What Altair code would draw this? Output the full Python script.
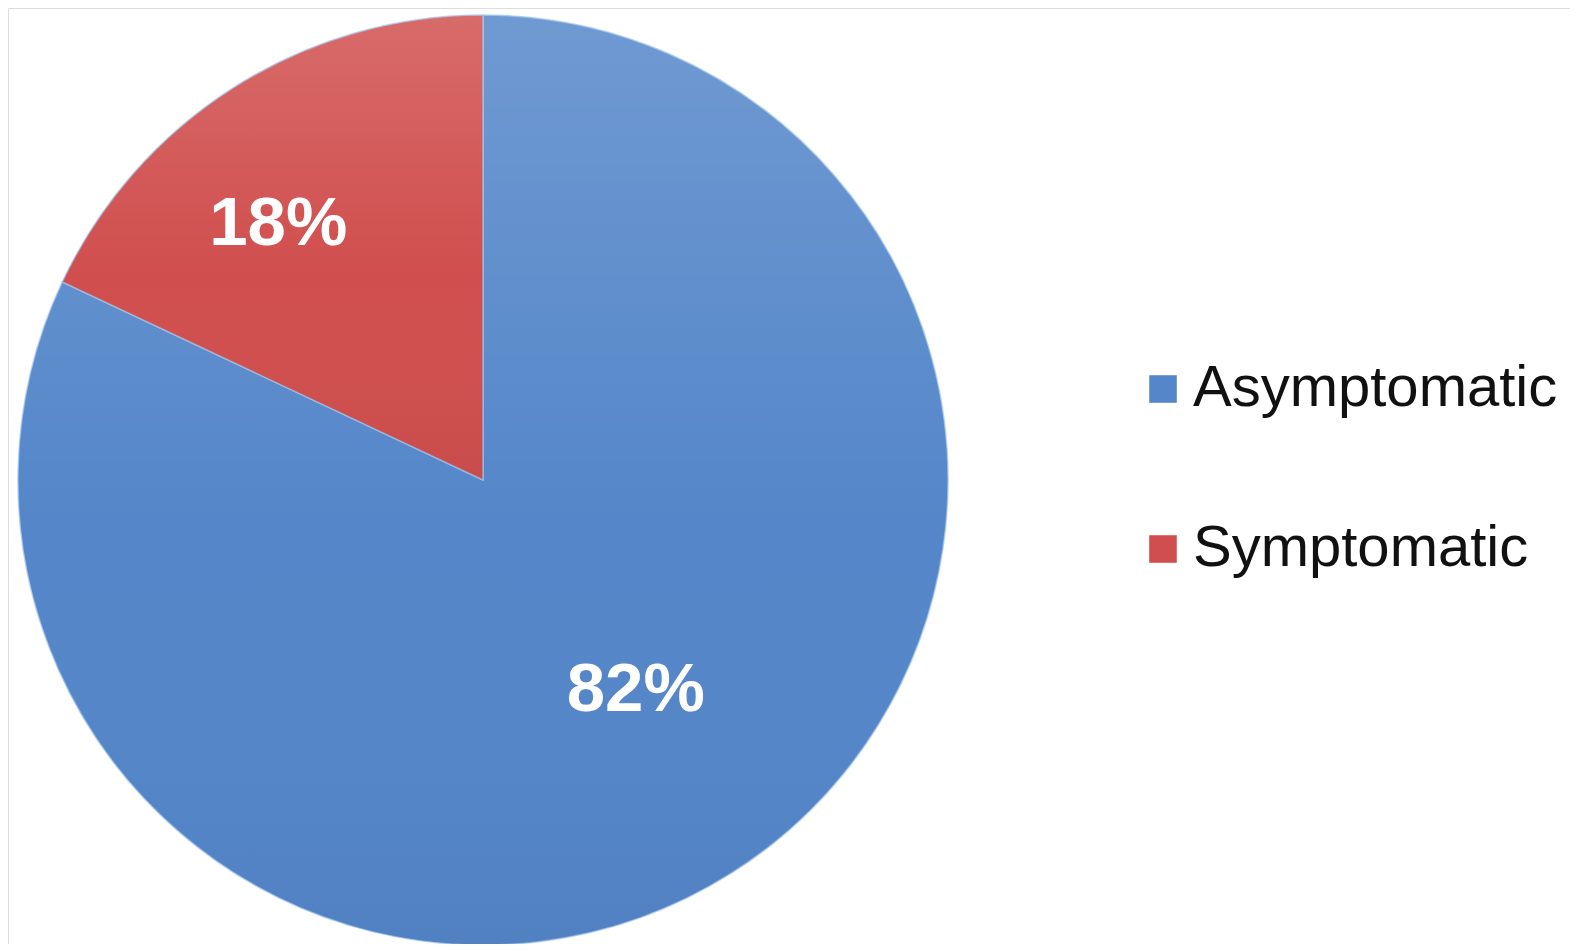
import altair as alt
import pandas as pd

categories = ["Asymptomatic", "Symptomatic"]
values = [82, 18]
labels = ["82%", "18%"]

df = pd.DataFrame({"status": categories, "value": values, "label": labels})

CX, CY, R = 475, 472, 465
FONT = "Arial"

color = alt.Color(
    "status:N",
    scale=alt.Scale(domain=categories, range=["#5486C9", "#D04F4E"]),
    legend=alt.Legend(
        title=None,
        orient="none",
        legendX=1126,
        legendY=352,
        symbolType="square",
        symbolSize=760,
        symbolStrokeWidth=0,
        labelFontSize=58,
        labelFont=FONT,
        labelColor="#111111",
        labelOffset=1,
        labelLimit=0,
        rowPadding=102,
        padding=0,
        symbolOpacity=1,
    ),
)

pie = alt.Chart(df).mark_arc(radius=R, stroke="#9cc4f0", strokeWidth=1.5, strokeOpacity=0.7).encode(
    theta=alt.Theta("value:Q", stack=True),
    x=alt.value(CX),
    y=alt.value(CY),
    color=color,
    order=alt.Order("status:N"),
)

shade = alt.Chart(df).mark_arc(
    radius=R,
    fill=alt.Gradient(
        gradient="linear",
        x1=0, y1=0, x2=0, y2=1,
        stops=[
            alt.GradientStop(color="rgba(255,255,255,0.16)", offset=0),
            alt.GradientStop(color="rgba(255,255,255,0.0)", offset=0.55),
            alt.GradientStop(color="rgba(0,0,0,0.04)", offset=1),
        ],
    ),
    strokeWidth=0,
).encode(
    theta=alt.Theta("value:Q", stack=True),
    x=alt.value(CX),
    y=alt.value(CY),
    order=alt.Order("status:N"),
    detail="status:N",
)

stacked = (
    alt.Chart(df)
    .transform_stack(stack="value", groupby=[], as_=["v0", "v1"], sort=[alt.SortField("status")])
    .transform_calculate(mid="(datum.v0 + datum.v1) / 2")
)


def label_layer(cat, r, dx, dy):
    return stacked.transform_filter(alt.datum.status == cat).mark_text(
        font=FONT,
        fontWeight="bold",
        fontSize=69,
        color="white",
        align="center",
        baseline="middle",
        radius=r,
        dx=dx,
        dy=dy,
    ).encode(
        theta=alt.Theta("mid:Q", scale=alt.Scale(domain=[0, 100]), stack=None),
        x=alt.value(CX),
        y=alt.value(CY),
        text="label:N",
    )


text_a = label_layer("Asymptomatic", 257, 15, -7)
text_s = label_layer("Symptomatic", 330, -28, 23)

chart = (
    alt.layer(pie, shade, text_a, text_s)
    .properties(width=1562, height=936, autosize=alt.AutoSizeParams(type="none"), padding=0)
    .configure_view(stroke="transparent", strokeWidth=0)
    .configure(background="white")
)

chart.save("out.html", embed_options={"renderer": "svg", "actions": False})
